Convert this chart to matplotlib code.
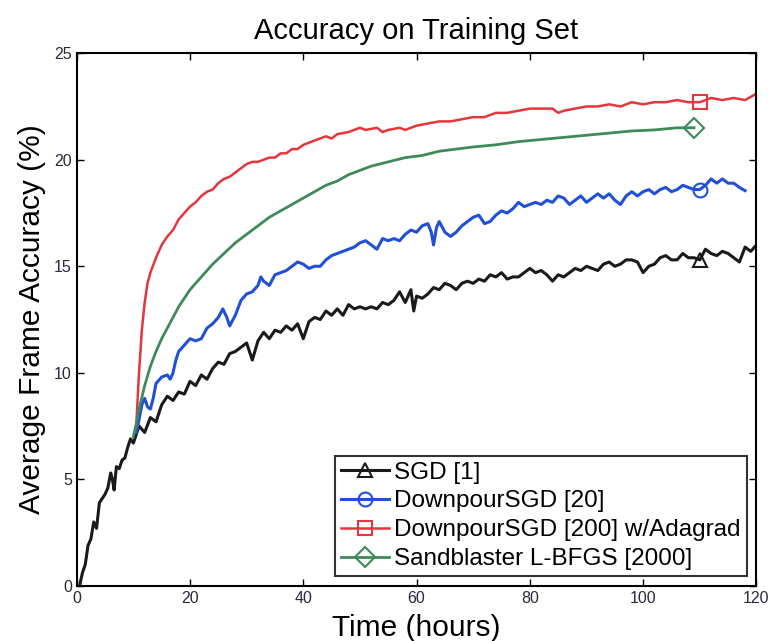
import matplotlib
matplotlib.use('Agg')
import matplotlib.pyplot as plt

plt.rcParams['font.family'] = ['Liberation Sans', 'DejaVu Sans']

# SGD [1]
sgd_t = [0.5, 1, 1.5, 2, 2.5, 3, 3.5, 4, 4.5, 5, 5.5, 6, 6.3, 6.6, 7, 7.5, 8, 8.5, 9, 9.5, 10,
         11, 12, 13, 14, 15, 16, 17, 18, 19, 20, 21, 22, 23, 24, 25, 26, 27, 28, 29, 30,
         31, 32, 33, 34, 35, 36, 37, 38, 39, 40, 41, 42, 43, 44, 45, 46, 47, 48, 49, 50,
         51, 52, 53, 54, 55, 56, 57, 58, 59, 59.5, 60, 61, 62, 63, 64, 65, 66, 67, 68, 69, 70,
         71, 72, 73, 74, 75, 76, 77, 78, 79, 80, 81, 82, 83, 84, 85, 86, 87, 88, 89, 90,
         91, 92, 93, 94, 95, 96, 97, 98, 99, 100, 101, 102, 103, 104, 105, 106, 107, 108, 109, 110,
         111, 112, 113, 114, 115, 116, 117, 118, 119, 120]
sgd_acc = [0.0, 0.6, 1.0, 1.9, 2.2, 3.0, 2.7, 3.9, 4.1, 4.3, 4.6, 5.3, 5.0, 4.5, 5.6, 5.5, 5.9, 6.0, 6.5, 6.9, 6.7,
           7.5, 7.2, 7.9, 7.7, 8.5, 8.9, 8.7, 9.1, 9.0, 9.6, 9.4, 9.9, 9.7, 10.2, 10.5, 10.4, 10.9, 11.0, 11.2, 11.4,
           10.6, 11.5, 11.9, 11.6, 12.0, 11.9, 12.2, 12.0, 12.3, 11.6, 12.4, 12.6, 12.5, 12.9, 12.7, 13.0, 12.7, 13.2, 13.0, 13.1,
           13.0, 13.1, 13.0, 13.3, 13.2, 13.4, 13.8, 13.3, 13.9, 12.9, 13.6, 13.5, 13.7, 14.0, 13.9, 14.2, 14.1, 13.9, 14.2, 14.3, 14.2,
           14.4, 14.3, 14.6, 14.5, 14.7, 14.4, 14.5, 14.5, 14.7, 14.9, 14.7, 14.8, 14.6, 14.3, 14.6, 14.5, 14.7, 14.9, 14.8, 15.0,
           14.9, 14.8, 15.1, 15.2, 15.0, 15.1, 15.3, 15.3, 15.2, 14.7, 15.0, 15.1, 15.4, 15.5, 15.3, 15.3, 15.6, 15.4, 15.4, 15.3,
           15.8, 15.6, 15.5, 15.7, 15.6, 15.4, 15.2, 15.9, 15.7, 16.0]

# DownpourSGD [20]
dp20_t = [10.5, 11, 11.5, 12, 12.5, 13, 13.5, 14, 15, 16, 16.5, 17, 17.5, 18, 19, 20, 21, 22, 23, 24, 25,
          25.8, 26.5, 27, 28, 29, 30, 31, 32, 32.5, 33, 34, 35, 36, 37, 38, 39, 40, 41, 42, 43, 44, 45,
          46, 47, 48, 49, 50, 51, 52, 53, 54, 55, 56, 57, 58, 59, 60, 61, 62, 62.6, 63, 63.5, 64, 65, 66,
          67, 68, 69, 70, 71, 72, 73, 74, 75, 76, 77, 78, 79, 80, 81, 82, 83, 84, 85, 86, 87, 88, 89, 90,
          91, 92, 93, 94, 95, 96, 97, 98, 99, 100, 101, 102, 103, 104, 105, 106, 107, 108, 109, 110,
          111, 112, 113, 114, 115, 116, 117, 118]
dp20_acc = [7.2, 7.8, 8.5, 8.8, 8.4, 8.3, 8.8, 9.5, 9.8, 9.9, 9.7, 10.0, 10.6, 11.0, 11.3, 11.6, 11.5, 11.6, 12.1, 12.3, 12.6,
            13.0, 12.6, 12.2, 12.7, 13.4, 13.7, 13.8, 14.1, 14.5, 14.3, 14.1, 14.6, 14.7, 14.8, 15.0, 15.2, 15.1, 14.9, 15.0, 15.0, 15.3, 15.5,
            15.6, 15.7, 15.8, 15.9, 16.1, 16.2, 16.0, 15.8, 16.3, 16.2, 16.3, 16.2, 16.5, 16.7, 16.6, 16.9, 17.0, 16.6, 16.0, 16.8, 17.1, 16.6, 16.4,
            16.6, 16.9, 17.1, 17.3, 17.4, 17.0, 17.1, 17.4, 17.6, 17.5, 17.7, 18.0, 17.8, 17.9, 18.0, 17.9, 18.1, 18.0, 18.3, 18.2, 17.9, 18.1, 18.3, 18.0,
            18.2, 18.4, 18.2, 18.4, 18.1, 17.9, 18.3, 18.5, 18.3, 18.5, 18.6, 18.4, 18.6, 18.7, 18.5, 18.6, 18.8, 18.7, 18.6, 18.6,
            18.8, 19.1, 18.9, 19.1, 18.9, 18.9, 18.7, 18.55]

# DownpourSGD [200] w/Adagrad
dp200_t = [10.5, 11, 11.5, 12, 12.5, 13, 14, 15, 16, 17, 18, 19, 20, 21, 22, 23, 24, 25, 26, 27, 28, 29, 30,
           31, 32, 33, 34, 35, 36, 37, 38, 39, 40, 42, 44, 45, 46, 48, 50, 51, 53, 54, 55, 57, 58, 60,
           62, 64, 66, 68, 70, 72, 74, 76, 78, 80, 82, 84, 85, 86, 88, 90, 92, 94, 96, 98, 100,
           102, 104, 106, 108, 110, 112, 114, 116, 118, 120]
dp200_acc = [7.5, 10.0, 12.0, 13.3, 14.2, 14.7, 15.4, 16.0, 16.4, 16.7, 17.2, 17.5, 17.8, 18.0, 18.3, 18.5, 18.6, 18.9, 19.1, 19.2, 19.4, 19.6, 19.8,
             19.9, 19.9, 20.0, 20.1, 20.1, 20.3, 20.3, 20.5, 20.5, 20.7, 20.9, 21.1, 21.0, 21.2, 21.3, 21.5, 21.4, 21.5, 21.3, 21.4, 21.5, 21.4, 21.6,
             21.7, 21.8, 21.8, 21.9, 22.0, 22.0, 22.2, 22.2, 22.3, 22.4, 22.4, 22.4, 22.2, 22.3, 22.4, 22.5, 22.5, 22.6, 22.5, 22.7, 22.6,
             22.7, 22.7, 22.8, 22.7, 22.7, 22.9, 22.8, 22.9, 22.8, 23.1]

# Sandblaster L-BFGS [2000]
lbfgs_t = [10, 10.5, 11, 12, 13, 14, 15, 16, 17, 18, 19, 20, 22, 24, 26, 28, 30, 32, 34, 36, 38, 40,
           42, 44, 46, 48, 50, 52, 55, 58, 61, 64, 67, 70, 74, 78, 82, 86, 90, 94, 98, 102, 106, 109]
lbfgs_acc = [7.0, 7.6, 8.3, 9.4, 10.3, 11.0, 11.6, 12.1, 12.6, 13.1, 13.5, 13.9, 14.5, 15.1, 15.6, 16.1, 16.5, 16.9, 17.3, 17.6, 17.9, 18.2,
             18.5, 18.8, 19.0, 19.3, 19.5, 19.7, 19.9, 20.1, 20.2, 20.4, 20.5, 20.6, 20.7, 20.85, 20.95, 21.05, 21.15, 21.25, 21.35, 21.4, 21.5, 21.5]

fig = plt.figure(figsize=(7.75, 6.41), dpi=100)
ax = fig.add_axes([0.099, 0.086, 0.877, 0.831])

mark_kw = dict(mfc='none', markersize=10, markeredgewidth=1.5)
ax.plot(sgd_t, sgd_acc, color='#1a1a1a', lw=2.2, marker='^',
        markevery=[sgd_t.index(110)], label='SGD [1]', **mark_kw)
ax.plot(dp20_t, dp20_acc, color='#2050d8', lw=2.2, marker='o',
        markevery=[dp20_t.index(110)], label='DownpourSGD [20]', **mark_kw)
ax.plot(dp200_t, dp200_acc, color='#e4363c', lw=1.8, marker='s',
        markevery=[dp200_t.index(110)], label='DownpourSGD [200] w/Adagrad', **mark_kw)
ax.plot(lbfgs_t, lbfgs_acc, color='#3f8a5a', lw=2, marker='D',
        markevery=[len(lbfgs_t) - 1], label='Sandblaster L-BFGS [2000]', **mark_kw)

ax.set_xlim(0, 120)
ax.set_ylim(0, 25)
ax.set_xticks([0, 20, 40, 60, 80, 100, 120])
ax.set_yticks([0, 5, 10, 15, 20, 25])
ax.tick_params(direction='in', top=True, right=True, length=5, width=1,
               labelsize=11.5, labelcolor='#2a2a3a')
for s in ax.spines.values():
    s.set_linewidth(1.5)

ax.set_title('Accuracy on Training Set', fontsize=21, pad=10)
ax.set_xlabel('Time (hours)', fontsize=21.5, labelpad=6)
ax.set_ylabel('Average Frame Accuracy (%)', fontsize=21.5, labelpad=6)

leg = ax.legend(loc='lower right', fontsize=17.5, handlelength=2.0, handletextpad=0.2,
                borderaxespad=0.4, labelspacing=0.28, fancybox=False, edgecolor='black',
                borderpad=0.25)
leg.get_frame().set_linewidth(1.5)

fig.savefig('out.png', dpi=100)
